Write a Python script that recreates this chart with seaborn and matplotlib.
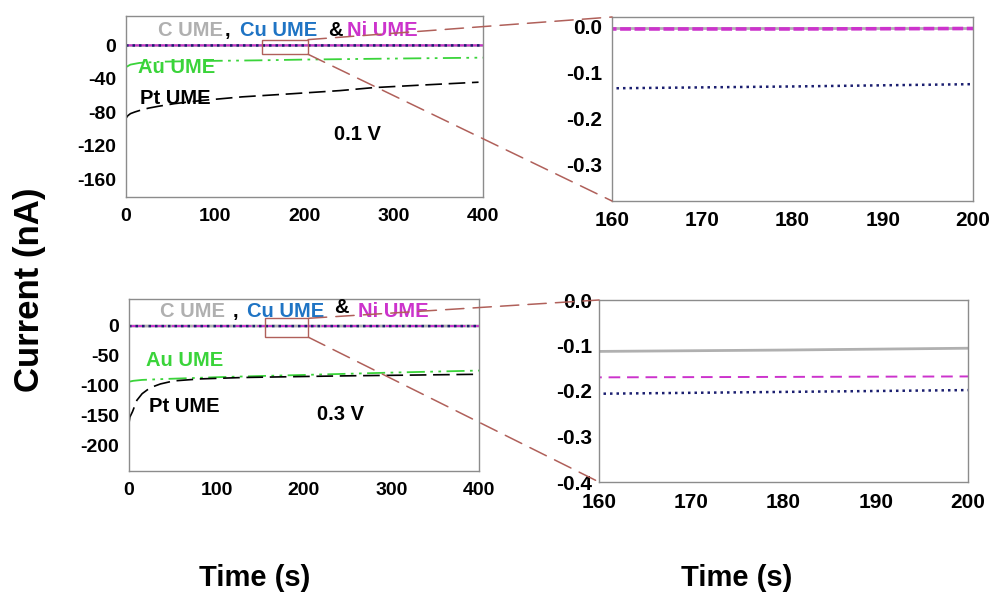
import matplotlib
matplotlib.use("Agg")
import matplotlib.pyplot as plt
import seaborn as sns
import pandas as pd
from matplotlib import font_manager
from matplotlib.patches import Rectangle, ConnectionPatch

sns.set_theme(style="white")
plt.rcParams["font.family"] = ["Liberation Sans", "DejaVu Sans"]
plt.rcParams["font.weight"] = "bold"
plt.rcParams["axes.unicode_minus"] = False
plt.rcParams["text.color"] = "black"
plt.rcParams["xtick.labelcolor"] = "black"
plt.rcParams["ytick.labelcolor"] = "black"

# ---------------- data ----------------
t_small = [0, 50, 100, 160, 180, 200, 300, 400]
c_01 = [-0.004, -0.004, -0.004, -0.004, -0.004, -0.004, -0.004, -0.004]
ni_01 = [-0.006, -0.006, -0.006, -0.006, -0.006, -0.005, -0.005, -0.005]
cu_01 = [-0.160, -0.150, -0.142, -0.135, -0.131, -0.126, -0.112, -0.100]

c_03 = [-0.125, -0.120, -0.117, -0.113, -0.110, -0.106, -0.100, -0.095]
ni_03 = [-0.175, -0.173, -0.172, -0.170, -0.169, -0.168, -0.166, -0.164]
cu_03 = [-0.220, -0.215, -0.210, -0.206, -0.202, -0.198, -0.190, -0.183]

t_au = [0, 5, 15, 40, 100, 150, 200, 300, 400]
au_01 = [-26, -23, -21, -19.5, -18.5, -17.9, -17, -15.8, -14.7]
au_03 = [-93, -91.5, -90, -88.5, -85.5, -83.5, -81.7, -77.8, -74.4]

t_pt01 = [0, 2, 5, 10, 16, 25, 36, 55, 86, 130, 187, 240, 277, 330, 395]
pt_01 = [-87, -84, -81.5, -79.5, -77.5, -75, -72.8, -69.5, -65.7, -61.5,
         -57.7, -54, -50.5, -47.5, -44]
t_pt03 = [0, 1, 4, 9, 15, 21, 28, 36, 51, 82, 130, 196, 250, 310, 360, 400]
pt_03 = [-162, -152, -143, -124, -113, -106.5, -101, -96.7, -91.7, -88.3,
         -86, -84.4, -83.2, -82.2, -81.3, -80.6]

# ---------------- styles ----------------
GRAY = "#b0b0b0"
BLUE = "#1f74c4"
MAG = "#cc33cc"
GREEN = "#3ad43a"
NAVY = "#1b1f70"
BROWN = "#b0605a"
SPINE = "#8c8c8c"

names = {f.name for f in font_manager.fontManager.ttflist}
if "Liberation Sans Narrow" in names:
    TIME_FONT = dict(family=["Liberation Sans Narrow", "Liberation Sans"], fontsize=24)
else:
    TIME_FONT = dict(family=["Liberation Sans", "DejaVu Sans"], fontsize=21)

W, H = 991, 599
fig = plt.figure(figsize=(W / 100, H / 100), dpi=100)


def add_ax(l, r, t, b):
    return fig.add_axes([l / W, 1 - b / H, (r - l) / W, (b - t) / H])


ax1 = add_ax(126, 483, 16, 197)
ax2 = add_ax(612, 973, 17, 201)
ax3 = add_ax(129, 479, 299, 471)
ax4 = add_ax(599, 968, 300, 482)


def line(ax, x, y, **kw):
    df = pd.DataFrame({"t": x, "i": y})
    sns.lineplot(data=df, x="t", y="i", ax=ax, estimator=None, sort=True, **kw)


def small_series(ax, c, ni, cu, ni_lw, ni_ls):
    line(ax, t_small, c, color=GRAY, lw=2.0)
    line(ax, t_small, ni, color=MAG, lw=ni_lw, linestyle=ni_ls)
    line(ax, t_small, cu, color=NAVY, lw=1.8, linestyle=(0, (1, 1.6)))


# Top left (0.1 V)
small_series(ax1, c_01, ni_01, cu_01, 1.4, "-")
line(ax1, t_au, au_01, color=GREEN, lw=1.3, linestyle=(0, (10, 3, 1.5, 3, 1.5, 3)))
line(ax1, t_pt01, pt_01, color="black", lw=1.2, linestyle=(0, (10, 4)))
ax1.set_xlim(0, 400)
ax1.set_ylim(-181, 35)
ax1.set_yticks([0, -40, -80, -120, -160])
ax1.set_xticks([0, 100, 200, 300, 400])

# Top right zoom
small_series(ax2, c_01, ni_01, cu_01, 2.6, (0, (3, 1)))
ax2.set_xlim(160, 200)
ax2.set_ylim(-0.38, 0.02)
ax2.set_yticks([0.0, -0.1, -0.2, -0.3])
ax2.set_yticklabels(["0.0", "-0.1", "-0.2", "-0.3"])
ax2.set_xticks([160, 170, 180, 190, 200])

# Bottom left (0.3 V)
small_series(ax3, c_03, ni_03, cu_03, 1.4, (0, (8, 3)))
line(ax3, t_au, au_03, color=GREEN, lw=1.3, linestyle=(0, (10, 3, 1.5, 3, 1.5, 3)))
line(ax3, t_pt03, pt_03, color="black", lw=1.2, linestyle=(0, (10, 4)))
ax3.set_xlim(0, 400)
ax3.set_ylim(-242, 45)
ax3.set_yticks([0, -50, -100, -150, -200])
ax3.set_xticks([0, 100, 200, 300, 400])

# Bottom right zoom
small_series(ax4, c_03, ni_03, cu_03, 1.4, (0, (6, 3.5)))
ax4.set_xlim(160, 200)
ax4.set_ylim(-0.4, 0.0)
ax4.set_yticks([0.0, -0.1, -0.2, -0.3, -0.4])
ax4.set_yticklabels(["0.0", "-0.1", "-0.2", "-0.3", "-0.4"])
ax4.set_xticks([160, 170, 180, 190, 200])

for ax, fs, xpad, ypad, tl in [(ax1, 14, 8, 7, 4), (ax3, 14, 8, 7, 4),
                               (ax2, 15, 7, 7, 12), (ax4, 15, 8, 5, 3)]:
    ax.set_xlabel("")
    ax.set_ylabel("")
    ax.tick_params(axis="both", direction="in", length=tl, width=0.8,
                   color="#777777", labelsize=fs, labelcolor="black")
    ax.tick_params(axis="x", pad=xpad)
    ax.tick_params(axis="y", pad=ypad)
    for lab in ax.get_xticklabels() + ax.get_yticklabels():
        lab.set_fontweight("bold")
    for sp in ax.spines.values():
        sp.set_color(SPINE)
        sp.set_linewidth(1.0)
    ax.set_facecolor("white")

# ---------------- labels ----------------
tk = dict(fontsize=14.5, fontweight="bold", va="center", ha="left")
ax1.text(36, 18, "C UME", color=GRAY, **tk)
ax1.text(111, 18, ",", color="black", **tk)
ax1.text(128, 18, "Cu UME", color=BLUE, **tk)
ax1.text(226, 18, "&", color="black", **tk)
ax1.text(248, 18, "Ni UME", color=MAG, **tk)
ax1.text(13, -27, "Au UME", color=GREEN, **tk)
ax1.text(16, -64, "Pt UME", color="black", **tk)
ax1.text(233, -107, "0.1 V", color="black", **tk)

ax3.text(36, 24, "C UME", color=GRAY, **tk)
ax3.text(118, 24, ",", color="black", **tk)
ax3.text(135, 24, "Cu UME", color=BLUE, **tk)
ax3.text(234, 30, "&", color="black", **tk)
ax3.text(262, 24, "Ni UME", color=MAG, **tk)
ax3.text(20, -57, "Au UME", color=GREEN, **tk)
ax3.text(23, -134, "Pt UME", color="black", **tk)
ax3.text(215, -148, "0.3 V", color="black", **tk)

fig.text(30 / W, 1 - 290 / H, "Current (nA)", rotation=90, fontsize=25,
         fontweight="bold", ha="center", va="center", color="black")
fig.text(255 / W, 1 - 578 / H, "Time (s)", fontweight="bold",
         ha="center", va="center", color="black", **TIME_FONT)
fig.text(737 / W, 1 - 578 / H, "Time (s)", fontweight="bold",
         ha="center", va="center", color="black", **TIME_FONT)

# ---------------- zoom boxes & connectors ----------------
def zoom_box(axa, axb, x0, x1, y0, y1):
    axa.add_patch(Rectangle((x0, y0), x1 - x0, y1 - y0, fill=False,
                            edgecolor=BROWN, lw=1.0, zorder=5))
    for ya, yb in [(y1, 1.0), (y0, 0.0)]:
        cp = ConnectionPatch(xyA=(x1, ya), coordsA=axa.transData,
                             xyB=(0.0, yb), coordsB=axb.transAxes,
                             color=BROWN, lw=1.1, linestyle=(0, (12, 6)))
        cp.set_zorder(10)
        fig.add_artist(cp)


zoom_box(ax1, ax2, 152, 204, -10.7, 6.8)
zoom_box(ax3, ax4, 155, 205, -18.8, 12.8)

fig.savefig("out.png", dpi=100, facecolor="white")
